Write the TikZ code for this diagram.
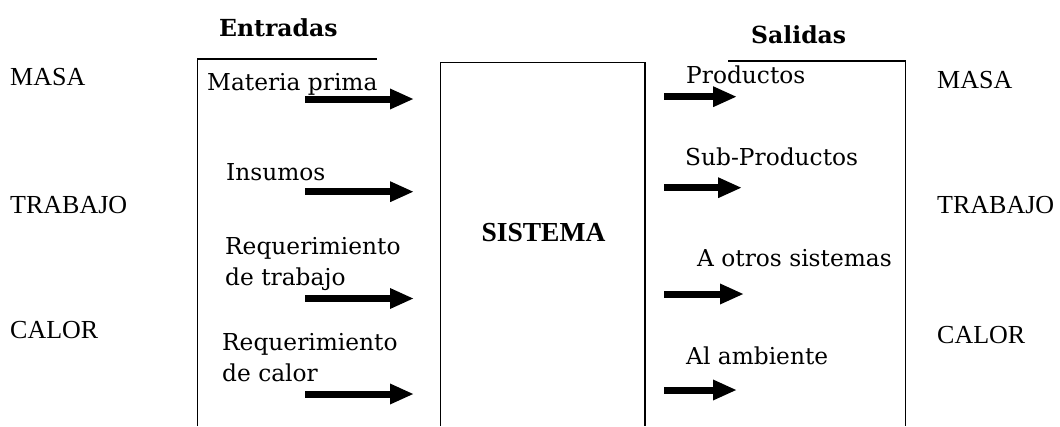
\documentclass[tikz,border=0pt]{standalone}
\usepackage{fontspec}
\setmainfont{Liberation Serif}
\newfontfamily\geo{DejaVu Serif}
\usetikzlibrary{arrows.meta}
\begin{document}
\begin{tikzpicture}[x=1pt,y=-1pt,
  lbl/.style={inner sep=0pt,anchor=base west,font=\geo\fontsize{23.3}{28}\selectfont},
  hdr/.style={inner sep=0pt,anchor=base west,font=\geo\bfseries\fontsize{23.5}{28}\selectfont},
  cat/.style={inner sep=0pt,anchor=base west,font=\fontsize{26}{30}\selectfont},
  frame/.style={line width=1.1pt},
  flow/.style={line width=7pt,-{Triangle[length=24pt,width=19pt]}}]
\useasboundingbox (0,0) rectangle (1060,426);
% frames
\draw[frame] (197.5,426) -- (197.5,59) -- (376.7,59);
\draw[frame] (440.7,426) -- (440.7,62.7) -- (645,62.7) -- (645,426);
\draw[frame] (728,61) -- (905.7,61) -- (905.7,426);
% headers
\node[hdr] (ent) at (219,36) {Entradas};
\node[hdr] (sal) at (751,43.3) {Salidas};
% categories
\node[cat] (lmasa) at (10,85) {MASA};
\node[cat] (ltrab) at (10,213) {TRABAJO};
\node[cat] (lcal) at (10,338) {CALOR};
\node[cat] (rmasa) at (937,88) {MASA};
\node[cat] (rtrab) at (937,213) {TRABAJO};
\node[cat] (rcal) at (937,343) {CALOR};
% system
\node[inner sep=0pt,anchor=base,font=\bfseries\fontsize{27.5}{30}\selectfont] (sis) at (543.5,241) {SISTEMA};
% input labels
\node[lbl] (mp) at (207,90) {Materia prima};
\node[lbl] (ins) at (226,180) {Insumos};
\node[lbl] (rt1) at (225,254) {Requerimiento};
\node[lbl] (rt2) at (225,285.5) {de trabajo};
\node[lbl] (rc1) at (222,350) {Requerimiento};
\node[lbl] (rc2) at (222,381.5) {de calor};
% output labels
\node[lbl] (pro) at (686,83.3) {Productos};
\node[lbl] (sub) at (685,165) {Sub-Productos};
\node[lbl] (otr) at (697,266.7) {A otros sistemas};
\node[lbl] (amb) at (686,364) {Al ambiente};
% arrow coordinates
\coordinate (i1a) at (305,99);   \coordinate (i1b) at (414,99);
\coordinate (i2a) at (305,191.7);\coordinate (i2b) at (414,191.7);
\coordinate (i3a) at (305,298.5);\coordinate (i3b) at (414,298.5);
\coordinate (i4a) at (305,394);  \coordinate (i4b) at (414,394);
\coordinate (o1a) at (664,96.7); \coordinate (o1b) at (737,96.7);
\coordinate (o2a) at (664,187.7);\coordinate (o2b) at (742,187.7);
\coordinate (o3a) at (664,294);  \coordinate (o3b) at (744,294);
\coordinate (o4a) at (664,390);  \coordinate (o4b) at (737,390);
\foreach \p in {i1,i2,i3,i4,o1,o2,o3,o4}{\draw[flow] (\p a) -- (\p b);}
\end{tikzpicture}
\end{document}
